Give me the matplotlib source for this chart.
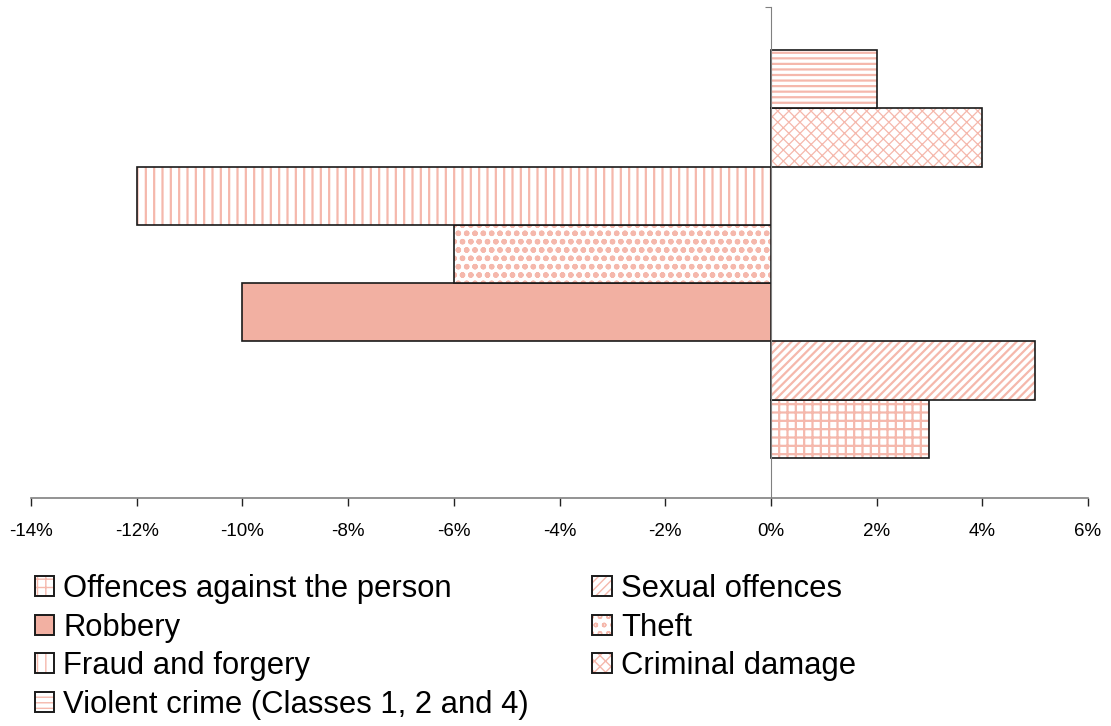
import matplotlib
matplotlib.use("Agg")
import matplotlib.pyplot as plt
from matplotlib.patches import Patch
from matplotlib.ticker import FuncFormatter

plt.rcParams['font.family'] = ['Liberation Sans', 'DejaVu Sans']

# Percentage change by offence group (bottom to top)
categories = [
    "Offences against the person",
    "Sexual offences",
    "Robbery",
    "Theft",
    "Fraud and forgery",
    "Criminal damage",
    "Violent crime (Classes 1, 2 and 4)",
]
values = [3, 5, -10, -6, -12, 4, 2]
hatches = ["++", "////", None, "oo", "||", "xxx", "---"]
hatch_widths = [1.6, 1.6, 1.6, 1.6, 1.6, 0.9, 1.6]
xticks = [-14, -12, -10, -8, -6, -4, -2, 0, 2, 4, 6]

pink = "#F2B0A2"
hatch_pink = "#F5B8AC"

fig = plt.figure(figsize=(11.11, 7.26), dpi=100)
ax = fig.add_axes([31 / 1111, 1 - 498 / 726, (1088 - 31) / 1111, (498 - 7) / 726])

fill_handles = []
edge_handles = []
for i, (cat, val, h, hw) in enumerate(zip(categories, values, hatches, hatch_widths)):
    with plt.rc_context({'hatch.linewidth': hw}):
        if h is None:
            ax.barh(i, val, height=1.0, color=pink, edgecolor="none", linewidth=0)
            fh = Patch(facecolor=pink, edgecolor="none", linewidth=0)
        else:
            ax.barh(i, val, height=1.0, color="white", edgecolor=hatch_pink,
                    hatch=h, linewidth=0)
            fh = Patch(facecolor="white", edgecolor=hatch_pink, hatch=h, linewidth=0)
    ax.barh(i, val, height=1.0, color="none", edgecolor="#1a1a1a", linewidth=1.2)
    eh = Patch(facecolor="none", edgecolor="#1a1a1a", linewidth=1.4)
    fill_handles.append(fh)
    edge_handles.append(eh)

ax.set_xlim(-14, 6)
ax.set_ylim(-1.19, 7.24)
ax.set_xticks(xticks)
ax.xaxis.set_major_formatter(FuncFormatter(lambda v, p: f"{int(round(v))}%"))
ax.tick_params(axis="x", direction="out", length=6, width=1, colors="#222222",
               labelsize=13.5, pad=12, labelcolor="black")

ax.spines["left"].set_position(("data", 0))
ax.spines["left"].set_color("#808080")
ax.spines["bottom"].set_color("#808080")
ax.spines["bottom"].set_linewidth(1.2)
ax.spines["top"].set_visible(False)
ax.spines["right"].set_visible(False)
ax.set_yticks([7.24])
ax.set_yticklabels([])
ax.tick_params(axis="y", direction="out", length=4, colors="#808080")

order = [0, 2, 4, 6, 1, 3, 5]
handles = [(fill_handles[k], edge_handles[k]) for k in order]
labels = [categories[k] for k in order]
fig.legend(handles, labels, ncol=2, loc="upper left",
           bbox_to_anchor=(35 / 1111, 1 - 574 / 726), frameon=False,
           fontsize=22.3, handlelength=0.62, handleheight=0.62,
           handletextpad=0.3, columnspacing=2.04, labelspacing=0.28,
           borderpad=0, borderaxespad=0)

fig.savefig("out.png", dpi=100)
